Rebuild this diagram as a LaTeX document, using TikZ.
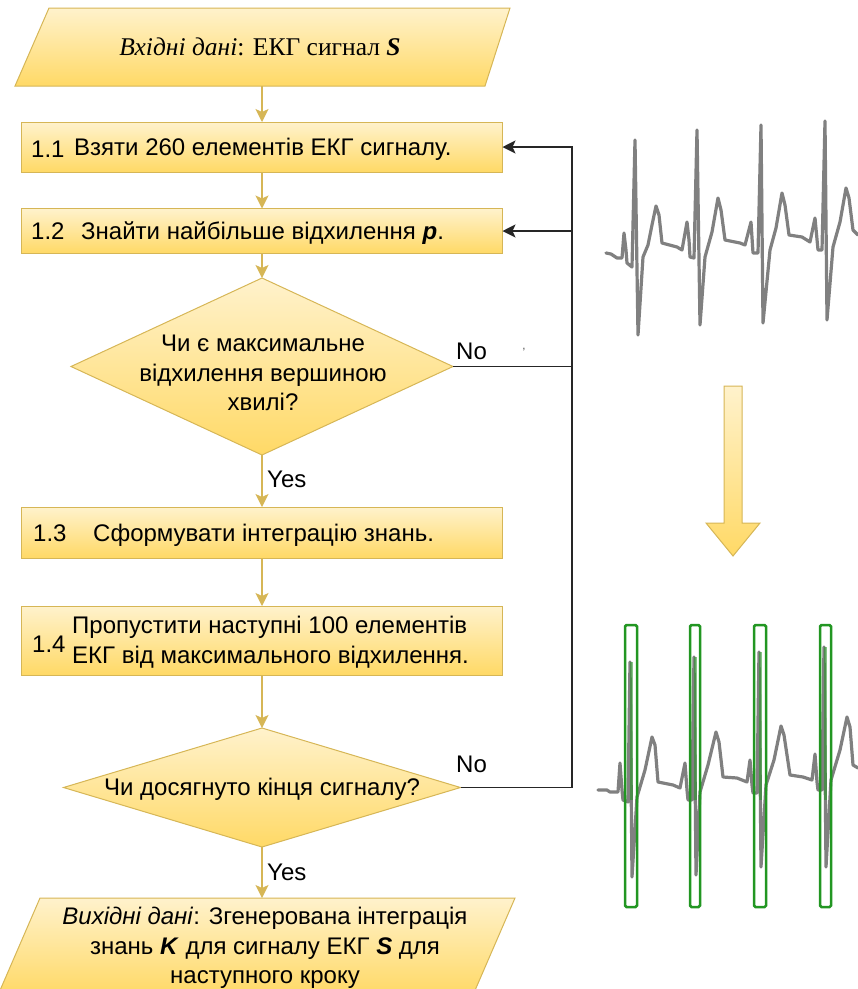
\documentclass[tikz,border=0pt]{standalone}
\usepackage{fontspec}
\setmainfont{Liberation Sans}
\newfontfamily\serifcyr{Liberation Serif}
\usetikzlibrary{shapes.geometric,arrows.meta}
\definecolor{fillTop}{HTML}{FFF2CC}
\definecolor{fillBot}{HTML}{FFD966}
\definecolor{edgeC}{HTML}{D6B656}
\definecolor{ecgC}{HTML}{808080}
\definecolor{grnC}{HTML}{229622}
\begin{document}
\begin{tikzpicture}[x=1pt,y=-1pt,
  font=\fontsize{24}{29.5}\selectfont,
  yellowfill/.style={draw=edgeC, line width=1pt, top color=fillTop, bottom color=fillBot},
  stepbox/.style={yellowfill, rectangle, minimum width=481pt, inner sep=0pt, outer sep=0pt},
  decision/.style={yellowfill, diamond, inner sep=0pt, outer sep=0pt},
  flow/.style={draw=edgeC, line width=1.5pt, -{Stealth[length=13pt,width=13pt,inset=3pt]}},
  loopline/.style={draw=black!85, line width=1.5pt},
  looparrow/.style={loopline, -{Stealth[length=13pt,width=13pt,inset=3pt]}},
  lbl/.style={inner sep=0pt, anchor=base west},
  ecgline/.style={draw=ecgC, line width=3.2pt, line join=round, line cap=round},
  greenbox/.style={draw=grnC, line width=2.5pt, rounded corners=1.5pt},
]
\useasboundingbox (0,0) rectangle (858,989);

% input parallelogram
\path[yellowfill] (49,8) -- (510,8) -- (485,86) -- (15,86) -- cycle;
\node (inp) at (260,47) {\serifcyr\fontsize{25.5}{28}\selectfont\textit{Вхідні дані}: ЕКГ сигнал \textbf{\textit{S}}};
\coordinate (inpS) at (262,86);

% steps
\node[stepbox, minimum height=50pt] (b1) at (262,147) {};
\node[lbl] (n1) at (31,157) {1.1};
\node[lbl] (t1) at (74,155.5) {Взяти 260 елементів ЕКГ сигналу.};

\node[stepbox, minimum height=45pt] (b2) at (262,231) {};
\node[lbl] (n2) at (31,239.5) {1.2};
\node[lbl] (t2) at (81,239.5) {Знайти найбільше відхилення \textbf{\textit{p}}.};

\node[decision, minimum width=382pt, minimum height=177pt] (d1) at (262,366.5) {};
\node[align=center, inner sep=0pt] (d1t) at (263,373) {Чи є максимальне\\відхилення вершиною\\хвилі?};

\node[stepbox, minimum height=51pt] (b3) at (262,532.5) {};
\node[lbl] (n3) at (33,541) {1.3};
\node[lbl] (t3) at (93,541) {Сформувати інтеграцію знань.};

\node[stepbox, minimum height=69pt] (b4) at (262,640.5) {};
\node[lbl] (n4) at (32,652) {1.4};
\node[anchor=west, inner sep=0pt, align=left] (t4) at (72,642) {Пропустити наступні 100 елементів\\ЕКГ від максимального відхилення.};

\node[decision, minimum width=397pt, minimum height=119pt] (d2) at (262,787.5) {};
\node[inner sep=0pt] (d2t) at (262,789) {Чи досягнуто кінця сигналу?};

% output parallelogram
\path[yellowfill] (40,898) -- (515,898) -- (473,995) -- (-2,995) -- cycle;
\coordinate (outN) at (262,898);
\node[align=center, inner sep=0pt] (out) at (265,948) {\textit{Вихідні дані}: Згенерована інтеграція\\знань \textbf{\textit{K}} для сигналу ЕКГ \textbf{\textit{S}} для\\наступного кроку};

% flow arrows
\draw[flow] (inpS) -- (b1.north);
\draw[flow] (b1.south) -- (b2.north);
\draw[flow] (b2.south) -- (d1.north);
\draw[flow] (d1.south) -- (b3.north);
\draw[flow] (b3.south) -- (b4.north);
\draw[flow] (b4.south) -- (d2.north);
\draw[flow] (d2.south) -- (outN);

\node[lbl] (yes1) at (267,487) {Yes};
\node[lbl] (yes2) at (267,880) {Yes};
\node[lbl] (no1) at (456,359) {No};
\node[lbl] (no2) at (456,772) {No};
\node[text=black!70, inner sep=0pt] (tick) at (524,352) {\fontsize{12}{12}\selectfont '};

% loop back
\coordinate (rail) at (572,147);
\draw[looparrow] (d2.east) -| (rail) -- (b1.east);
\draw[loopline] (d1.east) -- (d1.east -| rail);
\draw[looparrow] (b2.east -| rail) -- (b2.east);

% big arrow
\path[yellowfill] (724,386) -- (742,386) -- (742,523) -- (760,523) -- (733,556) -- (706,523) -- (724,523) -- cycle;

% top ECG
\draw[ecgline] (606,253) -- (611,254) -- (617,258) -- (622,258) -- (624,233) -- (626,250) -- (627,263) -- (632,267) -- (635,140) -- (638,335) -- (643,257) -- (648,245) -- (652,225) -- (656,206) -- (659,215) -- (662,243) -- (677,247) -- (682,250) -- (687,222) -- (689,240) -- (690,257) -- (694,258) -- (697,130) -- (700,325) -- (705,257) -- (712,232) -- (718,198) -- (721,210) -- (725,240) -- (740,243) -- (745,245) -- (751,222) -- (753,253) -- (758,253) -- (761,125) -- (763,323) -- (770,250) -- (776,228) -- (782,193) -- (785,205) -- (789,235) -- (802,237) -- (810,242) -- (815,218) -- (818,250) -- (822,250) -- (825,121) -- (827,320) -- (833,247) -- (840,222) -- (846,188) -- (849,198) -- (853,230) -- (858,235);

% bottom ECG
\draw[ecgline] (598,790) -- (607,790) -- (610,792) -- (618,792) -- (620,763) -- (622,790) -- (623,800) -- (628,802) -- (630,662) -- (632,877) -- (637,797) -- (645,770) -- (652,737) -- (655,745) -- (658,782) -- (673,785) -- (680,788) -- (685,763) -- (687,790) -- (688,800) -- (692,800) -- (694,657) -- (696,875) -- (700,792) -- (708,765) -- (716,732) -- (719,742) -- (723,777) -- (737,778) -- (747,782) -- (750,760) -- (752,785) -- (753,793) -- (757,793) -- (759,652) -- (761,867) -- (766,785) -- (774,760) -- (781,726) -- (784,735) -- (790,775) -- (803,777) -- (812,780) -- (815,754) -- (817,782) -- (818,790) -- (822,790) -- (824,647) -- (826,867) -- (831,780) -- (840,750) -- (847,717) -- (850,727) -- (853,765) -- (858,768);
\foreach \xa/\xb/\ys in {625/637/662,690/700/657,754/766/652,820/831/647}{
  \draw[draw=grnC, opacity=0.55, line width=3pt] ({(\xa+\xb)/2},\ys) -- ({(\xa+\xb)/2},800);
  \draw[greenbox] (\xa,625) rectangle (\xb,907);
}
\end{tikzpicture}
\end{document}
